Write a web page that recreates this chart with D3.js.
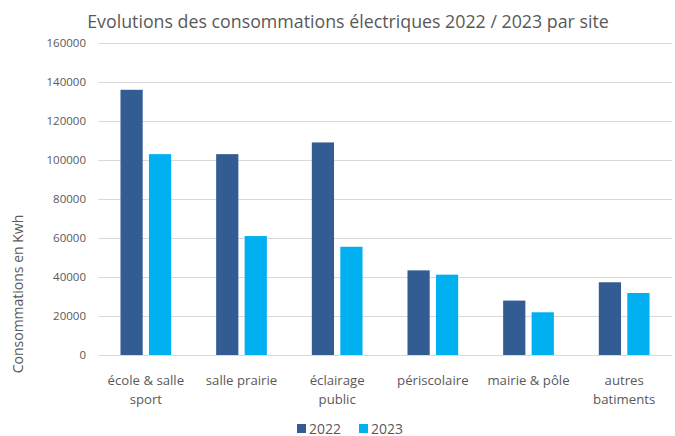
<!DOCTYPE html>
<html>
<head>
<meta charset="utf-8">
<script src="https://cdn.jsdelivr.net/npm/d3@7"></script>
<style>
  body { margin: 0; background: #fff; }
  text { font-family: "Open Sans", "Liberation Sans", sans-serif; }
</style>
</head>
<body>
<div id="chart"></div>
<script>
const categories = [["école & salle", "sport"], ["salle prairie"], ["éclairage", "public"], ["périscolaire"], ["mairie & pôle"], ["autres", "batiments"]];
const series = ["2022", "2023"];
const values2022 = [136000, 103000, 109000, 43400, 27900, 37300];
const values2023 = [103000, 61000, 55500, 41200, 21900, 31800];
const yTicks = [0, 20000, 40000, 60000, 80000, 100000, 120000, 140000, 160000];

const width = 675, height = 436;
const marginTop = 43, marginRight = 3, marginBottom = 81, marginLeft = 98;
const colors = ["#335c92", "#00b0f0"];

const svg = d3.select("#chart").append("svg")
  .attr("width", width)
  .attr("height", height)
  .attr("viewBox", [0, 0, width, height]);

const idx = d3.range(categories.length);
const x0 = d3.scaleBand().domain(idx).range([marginLeft, width - marginRight])
  .paddingInner(0.47).paddingOuter(0.235);
const x1 = d3.scaleBand().domain(series).range([0, x0.bandwidth()]).paddingInner(0.22);
const y = d3.scaleLinear().domain([0, 160000]).range([height - marginBottom, marginTop]);

// gridlines + y labels
const yAxis = d3.axisLeft(y).tickValues(yTicks).tickSize(0).tickPadding(12).tickFormat(d3.format("d"));
svg.append("g")
  .attr("transform", `translate(${marginLeft},0)`)
  .call(yAxis)
  .call(g => g.select(".domain").remove())
  .call(g => g.selectAll(".tick line").clone()
    .attr("x2", width - marginLeft - marginRight)
    .attr("stroke", "#d9d9d9"))
  .call(g => g.selectAll(".tick text")
    .attr("fill", "#595959")
    .attr("font-size", 11.5));

// bars
const data = [values2022, values2023];
const groups = svg.append("g").selectAll("g")
  .data(idx)
  .join("g")
  .attr("transform", i => `translate(${x0(i)},0)`);
groups.selectAll("rect")
  .data(i => series.map((s, k) => ({ s, k, v: data[k][i] })))
  .join("rect")
  .attr("x", d => x1(d.s))
  .attr("y", d => y(d.v))
  .attr("width", x1.bandwidth())
  .attr("height", d => y(0) - y(d.v))
  .attr("fill", d => colors[d.k]);

// x labels
svg.append("g").selectAll("text")
  .data(idx)
  .join("text")
  .attr("x", i => x0(i) + x0.bandwidth() / 2)
  .attr("y", height - marginBottom + 30)
  .attr("text-anchor", "middle")
  .attr("fill", "#595959")
  .attr("font-size", 13.2)
  .selectAll("tspan")
  .data(i => categories[i])
  .join("tspan")
  .attr("x", function() { return this.parentNode.getAttribute("x"); })
  .attr("dy", (d, j) => j === 0 ? 0 : 19)
  .text(d => d);

// title
svg.append("text")
  .attr("x", 348)
  .attr("y", 28)
  .attr("text-anchor", "middle")
  .attr("fill", "#595959")
  .attr("font-size", 17.8)
  .text("Evolutions des consommations électriques 2022 / 2023 par site");

// y axis title
svg.append("text")
  .attr("transform", "translate(23,294) rotate(-90)")
  .attr("text-anchor", "middle")
  .attr("fill", "#595959")
  .attr("font-size", 14)
  .text("Consommations en Kwh");

// legend
const legend = svg.append("g").selectAll("g")
  .data(series)
  .join("g")
  .attr("transform", (d, k) => `translate(${297 + k * 62},424)`);
legend.append("rect").attr("width", 9).attr("height", 9).attr("fill", (d, k) => colors[k]);
legend.append("text")
  .attr("x", 12).attr("y", 9.5)
  .attr("fill", "#595959")
  .attr("font-size", 14)
  .text(d => d);
</script>
</body>
</html>
